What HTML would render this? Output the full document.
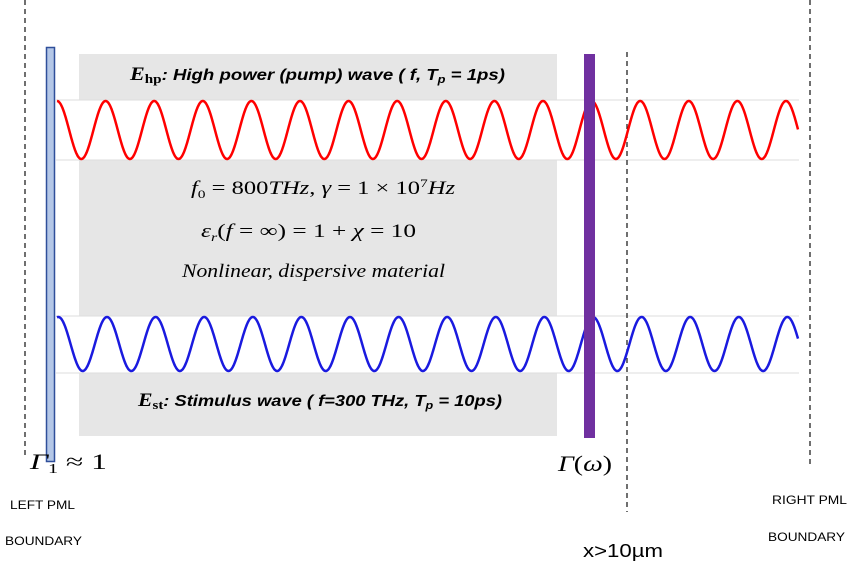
<!DOCTYPE html>
<html><head><meta charset="utf-8"><style>
html,body{margin:0;padding:0;background:#fff;width:859px;height:573px;overflow:hidden}
svg{display:block}
.s{font-family:"Liberation Sans",sans-serif}
.m{font-family:"Liberation Serif",serif}
</style></head><body>
<svg width="859" height="573" viewBox="0 0 859 573" xmlns="http://www.w3.org/2000/svg">
<rect x="79" y="54" width="478" height="382" fill="#e6e6e6"/>
<rect x="56" y="100" width="743" height="60" fill="#fff"/>
<rect x="56" y="316" width="743" height="57" fill="#fff"/>
<g stroke="#ddd" stroke-width="1"><line x1="56" y1="100" x2="799" y2="100"/><line x1="56" y1="160" x2="799" y2="160"/><line x1="56" y1="316" x2="799" y2="316"/><line x1="56" y1="373" x2="799" y2="373"/></g>
<g stroke="#222" stroke-width="1.3" stroke-dasharray="5,4"><line x1="25" y1="0" x2="25" y2="455"/><line x1="627" y1="52" x2="627" y2="512"/><line x1="810" y1="0" x2="810" y2="467"/></g>
<path id="red" fill="none" stroke="#f00" stroke-width="2.5"/>
<path id="blue" fill="none" stroke="#1a1adf" stroke-width="2.5"/>
<rect x="46.5" y="47.5" width="8" height="414" fill="#b4c7e7" stroke="#2f4f9a" stroke-width="1.5"/>
<rect x="584" y="54" width="11" height="384" fill="#7030a0"/>
<text x="130" y="80" class="s" font-size="16" font-weight="bold" font-style="italic" textLength="375" lengthAdjust="spacingAndGlyphs"><tspan class="m" font-size="19">E</tspan><tspan class="m" font-size="13" font-style="normal" dy="3">hp</tspan><tspan dy="-3">: High power (pump) wave ( f, T</tspan><tspan font-size="11" dy="3">p</tspan><tspan dy="-3"> = 1ps)</tspan></text>
<text x="138" y="406" class="s" font-size="16" font-weight="bold" font-style="italic" textLength="364" lengthAdjust="spacingAndGlyphs"><tspan class="m" font-size="19">E</tspan><tspan class="m" font-size="13" font-style="normal" dy="3">st</tspan><tspan dy="-3">: Stimulus wave ( f=300 THz, T</tspan><tspan font-size="11" dy="3">p</tspan><tspan dy="-3"> = 10ps)</tspan></text>
<text x="191" y="194" class="m" font-size="19" textLength="264" lengthAdjust="spacingAndGlyphs"><tspan font-style="italic">f</tspan><tspan font-size="12" dy="4">0</tspan><tspan dy="-4"> = 800</tspan><tspan font-style="italic">THz</tspan>,  <tspan font-style="italic">γ</tspan> = 1 × 10<tspan font-size="12" dy="-7">7</tspan><tspan dy="7" font-style="italic">Hz</tspan></text>
<text x="201" y="237" class="m" font-size="19" textLength="215" lengthAdjust="spacingAndGlyphs"><tspan font-style="italic">ε</tspan><tspan font-size="12" dy="4" font-style="italic">r</tspan><tspan dy="-4">(</tspan><tspan font-style="italic">f</tspan> = ∞) = 1 + <tspan font-style="italic">χ</tspan> = 10</text>
<text x="182" y="277" class="m" font-size="19" font-style="italic" textLength="263" lengthAdjust="spacingAndGlyphs">Nonlinear, dispersive material</text>
<text x="30" y="469" class="m" font-size="22" textLength="77" lengthAdjust="spacingAndGlyphs"><tspan font-style="italic">Γ</tspan><tspan font-size="14" dy="4">1</tspan><tspan dy="-4"> ≈ 1</tspan></text>
<text x="558" y="471" class="m" font-size="22" textLength="54" lengthAdjust="spacingAndGlyphs"><tspan font-style="italic">Γ</tspan>(<tspan font-style="italic">ω</tspan>)</text>
<text x="10" y="509" class="s" font-size="12" textLength="65" lengthAdjust="spacingAndGlyphs">LEFT PML</text>
<text x="5" y="545" class="s" font-size="12" textLength="77" lengthAdjust="spacingAndGlyphs">BOUNDARY</text>
<text x="772" y="504" class="s" font-size="12" textLength="75" lengthAdjust="spacingAndGlyphs">RIGHT PML</text>
<text x="768" y="541" class="s" font-size="12" textLength="77" lengthAdjust="spacingAndGlyphs">BOUNDARY</text>
<text x="583" y="557" class="s" font-size="18" textLength="80" lengthAdjust="spacingAndGlyphs">x&gt;10µm</text>
</svg>
<script>
function wave(id,x0,x1,yc,a,p,peak){var d="";for(var x=x0;x<=x1;x+=0.5){var y=yc-a*Math.cos(2*Math.PI*(x-peak)/p);d+=(x==x0?"M":"L")+x.toFixed(1)+" "+y.toFixed(1)+" ";}document.getElementById(id).setAttribute("d",d);}
wave("red",57,798,130,29,48.6,57);
wave("blue",57,798,344,27,48.6,593);
</script>
</body></html>
